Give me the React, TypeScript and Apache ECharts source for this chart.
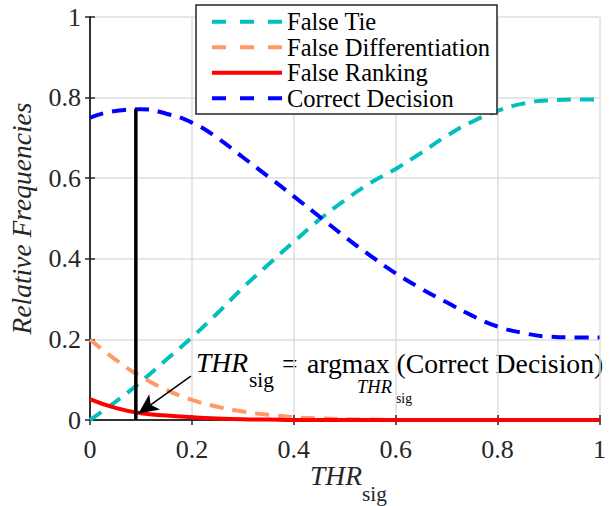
import React, { useEffect, useRef } from "react";
import * as echarts from "echarts";

const thr = [0, 0.05, 0.1, 0.15, 0.2, 0.25, 0.3, 0.35, 0.4, 0.45, 0.5, 0.55, 0.6, 0.65, 0.7, 0.75, 0.8, 0.85, 0.9, 0.95, 1.0];
const falseTie = [0, 0.045, 0.095, 0.15, 0.205, 0.265, 0.328, 0.386, 0.442, 0.497, 0.545, 0.588, 0.623, 0.663, 0.705, 0.74, 0.767, 0.785, 0.793, 0.795, 0.795];
const falseDiff = [0.2, 0.15, 0.108, 0.075, 0.05, 0.033, 0.021, 0.013, 0.007, 0.004, 0.002, 0.001, 0, 0, 0, 0, 0, 0, 0, 0, 0];
const falseRank = [0.052, 0.03, 0.017, 0.011, 0.007, 0.004, 0.002, 0.001, 0, 0, 0, 0, 0, 0, 0, 0, 0, 0, 0, 0, 0];
const correct = [0.75, 0.767, 0.771, 0.76, 0.738, 0.7, 0.652, 0.604, 0.555, 0.505, 0.455, 0.408, 0.364, 0.326, 0.292, 0.259, 0.232, 0.216, 0.207, 0.205, 0.205];
const seriesNames = ["False Tie", "False Differentiation", "False Ranking", "Correct Decision"];
const seriesColors = ["#00BFBF", "#FF9966", "#FF0000", "#0000FF"];
const optimum = [[0.09, 0], [0.09, 0.772]];
const arrowFrom = [0.198, 0.109];
const arrowTo = [0.095, 0.016];

const FONT = "Liberation Serif";

const pair = (ys: number[]) => thr.map((x, i) => [x, ys[i]]);

export default function App() {
  const ref = useRef<HTMLDivElement>(null);
  useEffect(() => {
    if (!ref.current) return;
    const chart = echarts.init(ref.current, null, { renderer: "svg" });
    const axisLine = { show: true, lineStyle: { color: "#262626", width: 1.5 } };
    const axisTick = { show: true, inside: true, length: 5, lineStyle: { color: "#262626", width: 1.5 } };
    const splitLine = { show: true, lineStyle: { color: "#dedede", width: 1.5 } };
    const fmt = (v: number) => (v === 0 ? "0" : v === 1 ? "1" : String(v));
    const dashed = (color: string, name: string, data: number[]) => ({
      name,
      type: "line",
      data: pair(data),
      smooth: true,
      symbol: "none",
      lineStyle: { color, width: 4, type: [14, 9] },
      itemStyle: { color },
    });
    chart.setOption({
      animation: false,
      textStyle: { fontFamily: FONT },
      grid: { left: 88, right: 0, top: 17, bottom: 86, containLabel: false },
      xAxis: [
        {
          type: "value", min: 0, max: 1, interval: 0.2,
          axisLine, axisTick, splitLine,
          axisLabel: { formatter: fmt, fontFamily: FONT, fontSize: 26, color: "#262626", margin: 16 },
        },
        {
          type: "value", min: 0, max: 1, interval: 0.2, position: "top",
          axisLine, axisTick, splitLine: { show: false }, axisLabel: { show: false },
        },
      ],
      yAxis: [
        {
          type: "value", min: 0, max: 1, interval: 0.2,
          axisLine, axisTick, splitLine,
          axisLabel: { formatter: fmt, fontFamily: FONT, fontSize: 26, color: "#262626", margin: 9 },
          name: "Relative Frequencies", nameLocation: "middle", nameGap: 55,
          nameTextStyle: { fontFamily: FONT, fontSize: 27.5, fontStyle: "italic", color: "#262626" },
        },
        {
          type: "value", min: 0, max: 1, interval: 0.2, position: "right",
          axisLine, axisTick, splitLine: { show: false }, axisLabel: { show: false },
        },
      ],
      legend: {
        data: seriesNames.map((name, i) => ({
          name,
          lineStyle: i === 2 ? { width: 4, color: seriesColors[i] } : { width: 4, type: [14, 14], color: seriesColors[i] },
        })),
        orient: "vertical",
        left: 196, top: 5,
        itemWidth: 70, itemHeight: 14, itemGap: 0,
        padding: [4, 7, 3, 14],
        backgroundColor: "#ffffff",
        borderColor: "#262626", borderWidth: 1.5, borderRadius: 0,
        itemStyle: { opacity: 0 },
        lineStyle: { width: 4 },
        textStyle: { fontFamily: FONT, fontSize: 24.5, color: "#000", lineHeight: 25.5 },
      },
      series: [
        dashed(seriesColors[0], seriesNames[0], falseTie),
        dashed(seriesColors[1], seriesNames[1], falseDiff),
        {
          name: seriesNames[2], type: "line", data: pair(falseRank), smooth: true,
          symbol: "none", lineStyle: { color: seriesColors[2], width: 4 }, itemStyle: { color: seriesColors[2] },
        },
        dashed(seriesColors[3], seriesNames[3], correct),
        {
          name: "optimum", type: "line", data: optimum, symbol: "none",
          lineStyle: { color: "#000", width: 3.5 }, z: 5,
          markLine: {
            silent: true, symbol: ["none", "arrow"], symbolSize: [14, 20],
            lineStyle: { color: "#000", width: 1.5, type: "solid" },
            label: { show: false },
            data: [[{ coord: arrowFrom }, { coord: arrowTo }]],
          },
        },
      ],
      graphic: [
        { type: "text", left: 310, top: 462, style: { text: "THR", fontFamily: FONT, fontSize: 27.5, fontStyle: "italic", fill: "#262626" } },
        { type: "text", left: 362, top: 483, style: { text: "sig", fontFamily: FONT, fontSize: 21.4, fill: "#262626" } },
        { type: "text", left: 196, top: 349, style: { text: "THR", fontFamily: FONT, fontSize: 27.5, fontStyle: "italic", fill: "#000" } },
        { type: "text", left: 249, top: 369, style: { text: "sig", fontFamily: FONT, fontSize: 21.4, fill: "#000" } },
        { type: "text", left: 282, top: 349, style: { text: "=", fontFamily: FONT, fontSize: 27.5, fill: "#000" } },
        { type: "text", left: 307, top: 349, style: { text: "argmax (Correct Decision)", fontFamily: FONT, fontSize: 27.7, fill: "#000" } },
        { type: "text", left: 357, top: 377.5, style: { text: "THR", fontFamily: FONT, fontSize: 18.5, fontStyle: "italic", fill: "#000" } },
        { type: "text", left: 396, top: 391.5, style: { text: "sig", fontFamily: FONT, fontSize: 13.7, fill: "#000" } },
      ],
    });
    return () => chart.dispose();
  }, []);
  return <div ref={ref} style={{ position: "fixed", left: 0, top: 0, width: 609, height: 506, background: "#fff" }} />;
}
